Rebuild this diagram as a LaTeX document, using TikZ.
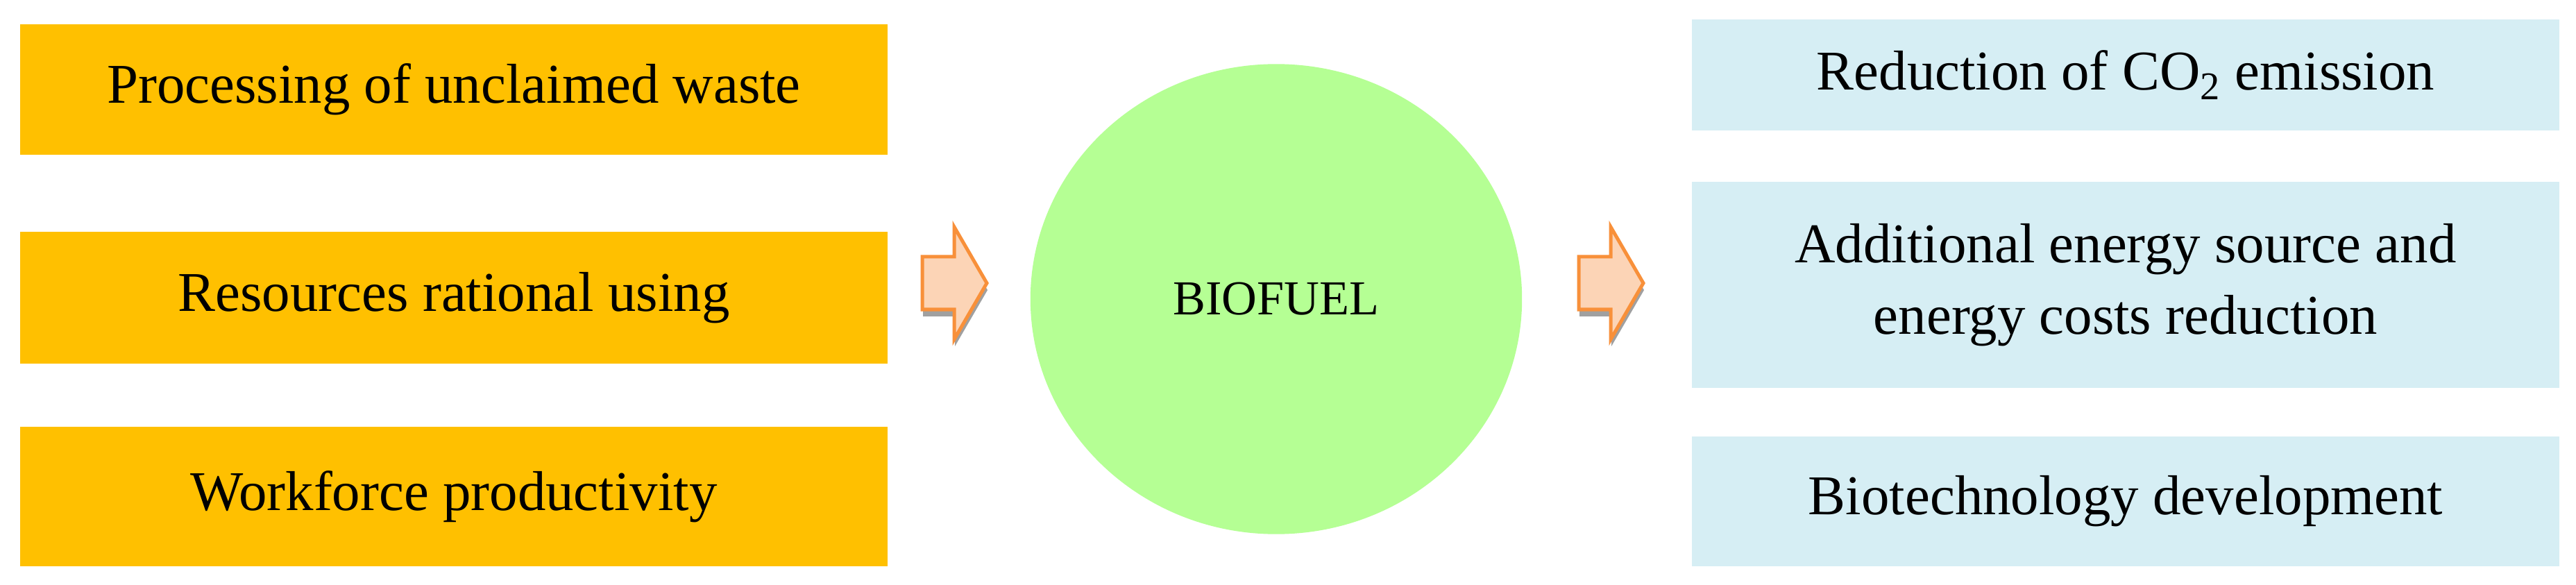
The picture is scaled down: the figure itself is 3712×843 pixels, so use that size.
\documentclass[tikz,border=0pt]{standalone}
\usepackage{fontspec}
\setmainfont{Liberation Serif}
\usetikzlibrary{shapes.geometric}
\definecolor{boxorange}{HTML}{FFC000}
\definecolor{boxblue}{HTML}{D6EEF4}
\definecolor{biogreen}{HTML}{B5FF94}
\definecolor{arrline}{HTML}{F8903A}
\definecolor{arrfill}{HTML}{FCD4B6}
\definecolor{arrshadow}{HTML}{A0A0A0}
\tikzset{
  basebox/.style={rectangle, inner sep=0pt, minimum width=12.5cm, align=center,
    font=\fontsize{23}{29.3}\selectfont, text=black},
  leftbox/.style={basebox, fill=boxorange},
  rightbox/.style={basebox, fill=boxblue},
  biocircle/.style={ellipse, inner sep=0pt, fill=biogreen, minimum width=7.08cm,
    minimum height=6.77cm, font=\fontsize{20}{24}\selectfont},
  blockarrow/.pic={
    \fill[arrshadow, shift={(1,10)}] (-47,-38) -- (-1,-38) -- (-1,-81) -- (46,0)
      -- (-1,81) -- (-1,38) -- (-47,38) -- cycle;
    \filldraw[fill=arrfill, draw=arrline, line width=0.05cm, line join=miter]
      (-47,-38) -- (-1,-38) -- (-1,-81) -- (46,0)
      -- (-1,81) -- (-1,38) -- (-47,38) -- cycle;
  }
}
\begin{document}
\begin{tikzpicture}[x=0.01cm, y=-0.01cm]
\useasboundingbox[fill=white] (0,0) rectangle (3712,843);
% left column
\node[leftbox, minimum height=1.88cm] (L1) at (654,129) {Processing of unclaimed waste};
\node[leftbox, minimum height=1.90cm] (L2) at (654,429) {Resources rational using};
\node[leftbox, minimum height=2.01cm] (L3) at (654,715.5) {Workforce productivity};
% centre
\node[biocircle] (bio) at (1839,431) {BIOFUEL};
% right column
\node[rightbox, minimum height=1.60cm] (R1) at (3063,108) {Reduction of CO\textsubscript{2} emission};
\node[rightbox, minimum height=2.97cm] (R2) at (3063,410.5) {Additional energy source and\\energy costs reduction};
\node[rightbox, minimum height=1.87cm] (R3) at (3063,722.5) {Biotechnology development};
% block arrows
\coordinate (a1) at (1376,408);
\coordinate (a2) at (2322,408);
\pic at (a1) {blockarrow};
\pic at (a2) {blockarrow};
\end{tikzpicture}
\end{document}
